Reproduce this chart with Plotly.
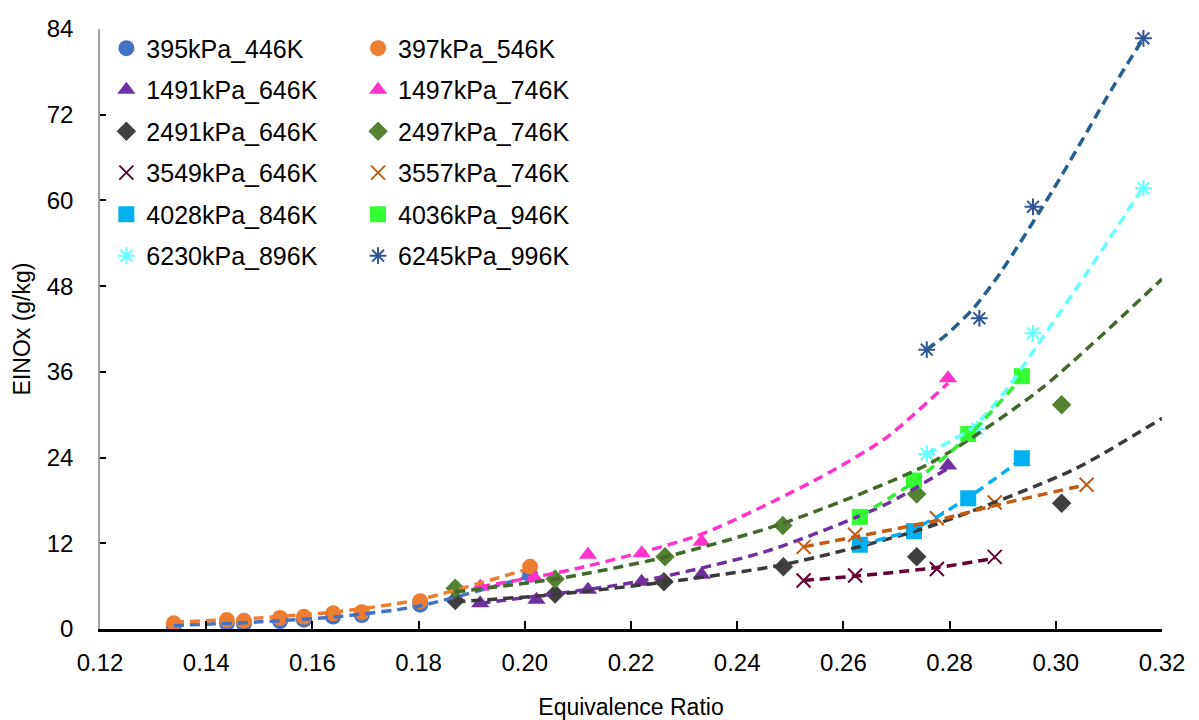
import plotly.graph_objects as go

FONT = "Liberation Sans, Arial, sans-serif"

# ---------------- data ----------------
x_395 = [0.1339, 0.1439, 0.1471, 0.1539, 0.1584, 0.1639, 0.1693, 0.1803, 0.2010]
y_395 = [0.45, 0.8, 0.75, 1.1, 1.3, 1.75, 1.95, 3.4, 7.6]
x_397 = [0.1339, 0.1439, 0.1471, 0.1539, 0.1584, 0.1639, 0.1693, 0.1803, 0.2010]
y_397 = [0.8, 1.25, 1.15, 1.55, 1.7, 2.2, 2.35, 3.9, 8.7]
x_1491 = [0.1916, 0.2022, 0.2119, 0.2220, 0.2333, 0.2797]
y_1491 = [3.6, 4.1, 5.5, 6.6, 7.6, 22.9]
x_1497 = [0.1916, 0.2019, 0.2119, 0.2220, 0.2333, 0.2797]
y_1497 = [5.9, 7.1, 10.4, 10.6, 12.2, 35.1]
x_2491 = [0.1869, 0.2057, 0.2262, 0.2487, 0.2738, 0.3011]
y_2491 = [4.0, 4.9, 6.6, 8.7, 10.1, 17.6]
x_2497 = [0.1869, 0.2057, 0.2264, 0.2486, 0.2738, 0.3011]
y_2497 = [5.7, 7.0, 10.1, 14.5, 18.9, 31.4]
x_3549 = [0.2525, 0.2622, 0.2776, 0.2885]
y_3549 = [6.8, 7.5, 8.4, 10.1]
x_3557 = [0.2525, 0.2622, 0.2776, 0.2885, 0.3058]
y_3557 = [11.5, 13.2, 15.5, 17.7, 20.2]
x_4028 = [0.2631, 0.2733, 0.2835, 0.2936]
y_4028 = [11.8, 13.7, 18.3, 23.9]
x_4036 = [0.2631, 0.2733, 0.2835, 0.2936]
y_4036 = [15.7, 20.8, 27.3, 35.4]
x_6230 = [0.2757, 0.2852, 0.2957, 0.3165]
y_6230 = [24.5, 28.0, 41.4, 61.7]
x_6245 = [0.2757, 0.2856, 0.2957, 0.3165]
y_6245 = [39.1, 43.5, 59.1, 82.7]

# dashed trend curves
tx_395 = [0.1339, 0.150, 0.165, 0.180, 0.201]
ty_395 = [0.5, 1.0, 1.75, 3.2, 7.4]
tx_397 = [0.1339, 0.150, 0.165, 0.180, 0.201]
ty_397 = [0.95, 1.55, 2.45, 4.1, 8.5]
tx_1491 = [0.1916, 0.2211, 0.2456, 0.2681, 0.2797]
ty_1491 = [3.6, 6.6, 10.9, 17.5, 22.5]
tx_1497 = [0.1916, 0.2100, 0.2330, 0.2556, 0.2681, 0.2797]
ty_1497 = [5.9, 8.5, 13.2, 21.2, 26.8, 34.4]
tx_2491 = [0.1869, 0.2053, 0.2300, 0.2486, 0.2744, 0.3033, 0.3200]
ty_2491 = [3.8, 4.8, 6.9, 9.0, 13.9, 22.3, 29.5]
tx_2497 = [0.1869, 0.2066, 0.2260, 0.2486, 0.2763, 0.2970, 0.3200]
ty_2497 = [5.2, 7.1, 10.0, 14.8, 23.2, 33.5, 49.0]
tx_3549 = [0.2525, 0.2622, 0.2776, 0.2885]
ty_3549 = [6.8, 7.4, 8.6, 9.9]
tx_3557 = [0.2525, 0.2622, 0.2776, 0.2885, 0.3058]
ty_3557 = [11.5, 12.9, 15.2, 17.3, 20.2]
tx_4028 = [0.2631, 0.2733, 0.2835, 0.2936]
ty_4028 = [11.8, 14.0, 18.4, 23.8]
tx_4036 = [0.2631, 0.2733, 0.2835, 0.2936]
ty_4036 = [15.8, 20.6, 27.0, 35.2]
tx_6230 = [0.2757, 0.2845, 0.2907, 0.2964, 0.3058, 0.3165]
ty_6230 = [24.5, 28.3, 33.5, 39.6, 49.8, 61.9]
tx_6245 = [0.2757, 0.2794, 0.2845, 0.2895, 0.2995, 0.3108, 0.3165]
ty_6245 = [39.1, 41.2, 44.9, 49.8, 61.5, 75.9, 82.7]

x_ticks = [0.12, 0.14, 0.16, 0.18, 0.20, 0.22, 0.24, 0.26, 0.28, 0.30, 0.32]
y_ticks = [0, 12, 24, 36, 48, 60, 72, 84]

# ---------------- styles ----------------
series = [
    # name, x, y, symbol, size, marker color, line-marker?, legend, trend x, trend y, trend color
    ("395kPa_446K", x_395, y_395, "circle", 16, "#4472C4", False, "legend", tx_395, ty_395, "#4472C4"),
    ("1491kPa_646K", x_1491, y_1491, "triangle-up", 16, "#7030A0", False, "legend", tx_1491, ty_1491, "#7030A0"),
    ("2491kPa_646K", x_2491, y_2491, "diamond", 15, "#404040", False, "legend", tx_2491, ty_2491, "#3A3A3A"),
    ("3549kPa_646K", x_3549, y_3549, "x-thin-open", 14, "#660033", True, "legend", tx_3549, ty_3549, "#660033"),
    ("4028kPa_846K", x_4028, y_4028, "square", 16, "#00B0F0", False, "legend", tx_4028, ty_4028, "#00B0F0"),
    ("6230kPa_896K", x_6230, y_6230, "asterisk-open", 14, "#66FFFF", True, "legend", tx_6230, ty_6230, "#66FFFF"),
    ("397kPa_546K", x_397, y_397, "circle", 16, "#ED7D31", False, "legend2", tx_397, ty_397, "#ED7D31"),
    ("1497kPa_746K", x_1497, y_1497, "triangle-up", 16, "#FF33CC", False, "legend2", tx_1497, ty_1497, "#FF33CC"),
    ("2497kPa_746K", x_2497, y_2497, "diamond", 15, "#548235", False, "legend2", tx_2497, ty_2497, "#43682B"),
    ("3557kPa_746K", x_3557, y_3557, "x-thin-open", 14, "#C55A11", True, "legend2", tx_3557, ty_3557, "#C55A11"),
    ("4036kPa_946K", x_4036, y_4036, "square", 16, "#33FF33", False, "legend2", tx_4036, ty_4036, "#33EE33"),
    ("6245kPa_996K", x_6245, y_6245, "asterisk-open", 14, "#2F5597", True, "legend2", tx_6245, ty_6245, "#255E91"),
]

fig = go.Figure()

for nm, xs, ys, sym, sz, col, is_line, leg, tx, ty, tcol in series:
    if is_line:
        marker = dict(symbol=sym, size=sz, color=col, line=dict(color=col, width=2))
    else:
        marker = dict(symbol=sym, size=sz, color=col, line=dict(width=0))
    fig.add_trace(go.Scatter(x=xs, y=ys, mode="markers", name=nm, marker=marker,
                             legend=leg, legendgroup=nm, showlegend=True))

for nm, xs, ys, sym, sz, col, is_line, leg, tx, ty, tcol in series:
    fig.add_trace(go.Scatter(x=tx, y=ty, mode="lines",
                             line=dict(color=tcol, width=3.5, dash="10px,6px", shape="spline", smoothing=0.7),
                             showlegend=False, hoverinfo="skip", legendgroup=nm))

legend_common = dict(font=dict(family=FONT, size=25, color="black"), bgcolor="rgba(0,0,0,0)",
                     traceorder="grouped", tracegroupgap=6, itemsizing="trace",
                     yanchor="top", xanchor="left", y=1.006)

fig.update_layout(
    width=1199, height=720,
    margin=dict(l=100, r=37, t=29, b=91, autoexpand=False),
    paper_bgcolor="white", plot_bgcolor="white",
    font=dict(family=FONT, size=24, color="black"),
    legend=dict(x=0.006, **legend_common),
    legend2=dict(x=0.243, **legend_common),
    xaxis=dict(range=[0.12, 0.32], tickvals=x_ticks, ticktext=[f"{v:.2f}" for v in x_ticks],
               ticks="inside", ticklen=8, tickwidth=2, tickcolor="black",
               showline=True, linecolor="black", linewidth=2.5, showgrid=False, zeroline=False,
               ticklabelstandoff=10, automargin=False,
               title=dict(text="Equivalence Ratio", font=dict(size=23), standoff=28)),
    yaxis=dict(range=[0, 84], tickvals=y_ticks, ticktext=[str(v) for v in y_ticks],
               ticks="inside", ticklen=6, tickwidth=2, tickcolor="black",
               showline=True, linecolor="#A0A0A0", linewidth=1.5, showgrid=False, zeroline=False,
               ticklabelstandoff=20, automargin=False,
               title=dict(text="EINOx (g/kg)", font=dict(size=23), standoff=10)),
)

fig.write_html("out.html")
